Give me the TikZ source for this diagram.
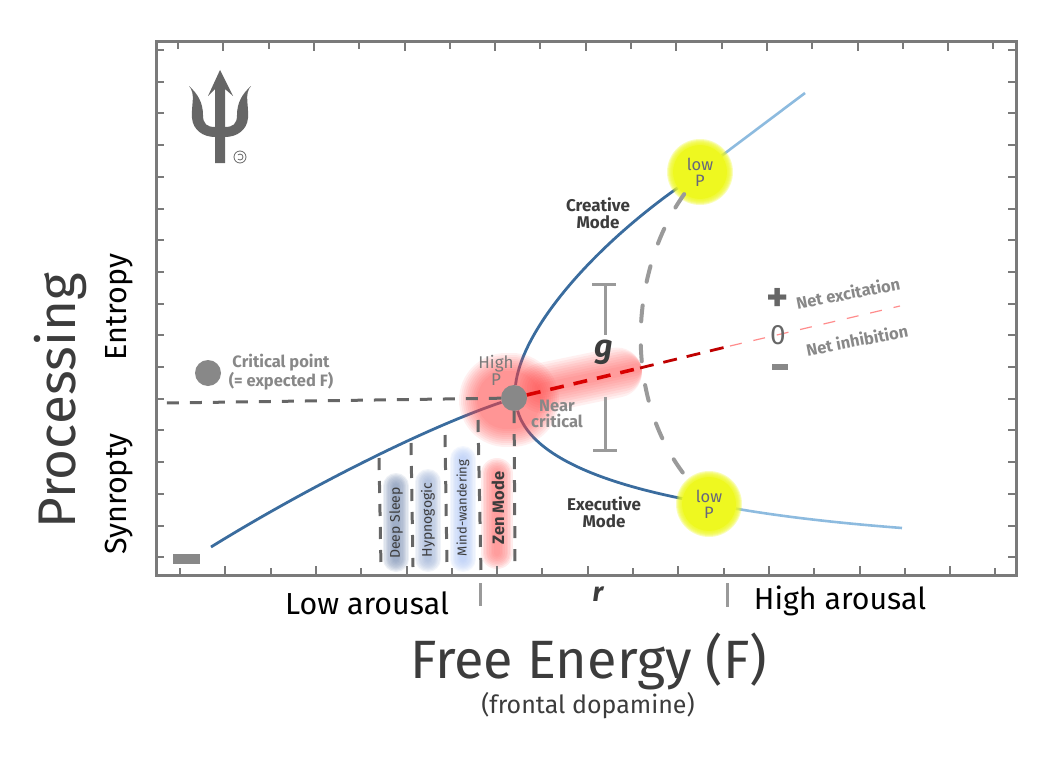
\documentclass[tikz,border=0pt]{standalone}
\usepackage{fontspec}
\setmainfont{Fira Sans}
\usetikzlibrary{backgrounds}

\definecolor{axisgray}{HTML}{7A7A7A}
\definecolor{markgray}{HTML}{888888}
\definecolor{dashgray}{HTML}{666666}
\definecolor{arcgray}{HTML}{9A9A9A}
\definecolor{textdark}{HTML}{3C3C3C}
\definecolor{flowblue}{HTML}{3A6C9E}
\definecolor{paleblue}{HTML}{8DBBDF}
\definecolor{lowyellow}{HTML}{EEF820}
\definecolor{lowtext}{HTML}{66667E}
\definecolor{redglow}{HTML}{FF4040}
\definecolor{deepband}{HTML}{7F93B5}
\definecolor{hypnoband}{HTML}{9FB2D6}
\definecolor{mindband}{HTML}{B2C8F5}
\definecolor{zenband}{HTML}{FF7B7B}

\newcommand{\fsz}[1]{\fontsize{#1}{#1}\selectfont}

\tikzset{
  axisline/.style={axisgray, line width=3pt},
  tickmark/.style={axisgray, line width=2pt},
  flowline/.style={flowblue, line width=2.8pt},
  paleline/.style={paleblue, line width=2.6pt},
  darkdash/.style={dashgray, line width=3pt, dash pattern=on 12pt off 11pt},
  arcdash/.style={arcgray, line width=4pt, line cap=round, dash pattern=on 16pt off 24pt},
  gbar/.style={arcgray, line width=3pt},
  critdot/.style={circle, fill=markgray, inner sep=0pt, minimum size=26pt},
  lowdot/.style={circle, fill=lowyellow, inner sep=0pt, minimum size=54pt, align=center, text=lowtext, font=\fontsize{16.5}{16}\selectfont},
  modelabel/.style={rotate=90, text=textdark, font=\fsz{14}},
  boldlabel/.style={align=center, text=textdark, font=\fontsize{17}{17}\bfseries\selectfont},
  graylabel/.style={align=center, text=markgray, font=\fontsize{16.5}{14}\bfseries\selectfont},
  marksign/.style={fill=markgray, inner sep=0pt}
}

\begin{document}
\begin{tikzpicture}[x=1pt, y=-1pt]
  \useasboundingbox (0,0) rectangle (1060,776);

  % Frame and ticks
  \draw[axisline] (156,42) rectangle (1016,575);
  \foreach \k in {0,...,18} {
    \pgfmathsetmacro{\tl}{mod(\k,2)*2}
    \draw[tickmark] (178+45.3*\k,42) -- (178+45.3*\k,49+\tl);
    \draw[tickmark] (180+45.3*\k,575) -- (180+45.3*\k,568-\tl);
  }
  \foreach \k in {0,...,16} {
    \draw[tickmark] (156,50+31.7*\k) -- (164,50+31.7*\k);
    \draw[tickmark] (1016,50+31.7*\k) -- (1008,50+31.7*\k);
  }

  % Trident
  \fill[dashgray] (220,70) -- (233,96) -- (225,89) -- (225,163) -- (215,163) -- (215,89) -- (208,96) -- cycle;
  \foreach \s in {1,-1} {
    \begin{scope}[shift={(220,0)}, xscale=\s, shift={(-220,0)}]
      \fill[dashgray] (189,86) .. controls (196,94) and (191,105) .. (192,118)
        .. controls (193,130) and (203,137) .. (215,137) -- (215,127)
        .. controls (207,127) and (203,124) .. (203,115)
        .. controls (203,103) and (198,94) .. (189,86) -- cycle;
    \end{scope}
  }
  \draw[dashgray, line width=0.8pt] (240,157) circle (6pt);
  \draw[dashgray, line width=0.8pt] (237.9,154.9) arc (135:-135:3pt);

  % Main points
  \node (crit) at (514,398) [critdot] {};
  \node (lowA) at (700,172) [lowdot] {low\\P};
  \node (lowB) at (709,504) [lowdot] {low\\P};

  % Free ends
  \coordinate (startLow) at (211,547);
  \coordinate (endTop) at (805,93);
  \coordinate (endRight) at (902,528);
  \coordinate (axisLeft) at (166,403);
  \coordinate (redA) at (640,368);
  \coordinate (redB) at (730,346);
  \coordinate (redC) at (900,306);
  \coordinate (tickA) at (480,583);
  \coordinate (tickAend) at (480,606);
  \coordinate (tickB) at (727,583);
  \coordinate (tickBend) at (727,607);

  \begin{scope}[on background layer]
    % Bands
    \foreach \x/\ya/\yb/\col/\bw in {396/486/559/deepband/26, 428/482/559/hypnoband/26, 463/459/559/mindband/26, 497/474/553/zenband/32} {
      \foreach \f in {1,0.9,0.8,0.7,0.6,0.5,0.4,0.3,0.2} {
        \draw[\col, line width=\f*\bw, line cap=round, opacity=0.14] (\x,\ya) -- (\x,\yb);
      }
    }

    % Curves
    \draw[flowline] (startLow) .. controls (300,492) and (420,430) .. (crit);
    \draw[flowline] (crit) .. controls (522,330) and (590,250) .. (lowA);
    \draw[flowline] (crit) .. controls (530,455) and (600,482) .. (lowB);
    \draw[paleline] (lowA) -- (endTop);
    \draw[paleline] (lowB) .. controls (790,518) and (850,524) .. (endRight);

    % Red glow
    \foreach \w in {94,90,86,82,78,74,70,66,62,58} {
      \draw[redglow, line width=\w, line cap=round, opacity=0.08] (506,400) -- (512,400);
    }
    \foreach \w in {50,45,40,35,30,25,20,15,10} {
      \draw[redglow, line width=\w, line cap=round, opacity=0.08] (542,388) -- ({642-\w/2},{367+\w*0.11});
    }

    % Yellow glow
    \foreach \r in {33,32,31,30,29,28} {
      \fill[lowyellow, opacity=0.3] (lowA) circle (\r pt);
      \fill[lowyellow, opacity=0.3] (lowB) circle (\r pt);
    }
  \end{scope}

  % Dashed lines
  \draw[darkdash] (crit) -- (axisLeft);
  \foreach \i/\xa/\ya/\xb/\yb in {1/379/458/381/567, 2/411/443/413/567, 3/445/435/447/567, 4/478/420/481/573} {
    \coordinate (modeTop\i) at (\xa,\ya);
    \coordinate (modeBot\i) at (\xb,\yb);
    \draw[darkdash] (modeTop\i) -- (modeBot\i);
  }
  \coordinate (modeBot5) at (515,570);
  \draw[darkdash] (crit) -- (modeBot5);
  \draw[arcdash] (lowA) .. controls (630,270) and (620,400) .. (lowB);

  % Excitation axis
  \draw[red!85!black, line width=3.6pt, dash pattern=on 14pt off 10pt] (crit) -- (redA);
  \draw[red!75!black, line width=2.8pt, dash pattern=on 14pt off 10pt] (redA) -- (redB);
  \draw[red!45, line width=1.2pt, dash pattern=on 12pt off 12pt] (redB) -- (redC);

  % g bar
  \node (gap) at (604,352) [text=textdark, font=\fsz{32}\bfseries\itshape] {g};
  \coordinate (gCapTopL) at (592,284);
  \coordinate (gCapTopR) at (616,284);
  \coordinate (gTop) at (605,284);
  \coordinate (gUp) at (605,335);
  \coordinate (gLow) at (605,397);
  \coordinate (gBot) at (605,450);
  \coordinate (gCapBotL) at (593,450);
  \coordinate (gCapBotR) at (617,450);
  \draw[gbar] (gCapTopL) -- (gCapTopR);
  \draw[gbar] (gTop) -- (gUp);
  \draw[gbar] (gLow) -- (gBot);
  \draw[gbar] (gCapBotL) -- (gCapBotR);
  \draw[gbar] (tickA) -- (tickAend);
  \draw[gbar] (tickB) -- (tickBend);

  % Mode labels
  \node (deep) at (396,523) [modelabel] {Deep Sleep};
  \node (hypno) at (428,520) [modelabel] {Hypnogogic};
  \node (mind) at (463,508) [modelabel, font=\fsz{13}] {Mind-wandering};
  \node (zen) at (498,508) [modelabel, font=\fsz{16.5}\bfseries] {Zen Mode};
  \node (creative) at (598,213) [boldlabel] {Creative\\Mode};
  \node (executive) at (604,512) [boldlabel] {Executive\\Mode};
  \node (high) at (496,370) [align=center, text=axisgray, font=\fontsize{17}{17}\selectfont] {High\\P};
  \node (near) at (557,414) [graylabel, font=\fontsize{16.5}{16}\bfseries\selectfont] {Near\\critical};

  % Critical point legend
  \node (critKey) at (208,373) [critdot] {};
  \node (critText) at (281,372) [graylabel] {Critical point\\(= expected F)};

  % Signs
  \node (plus) at (778,300) [text=dashgray, font=\fsz{42}\bfseries] {+};
  \node (zero) at (778,335) [text=dashgray, font=\fsz{28}] {0};
  \node (minus) at (780,367) [marksign, minimum width=16pt, minimum height=6pt] {};
  \node (lowKey) at (186.5,559) [marksign, minimum width=27pt, minimum height=10pt] {};
  \node (excit) at (848,293) [graylabel, rotate=11] {Net excitation};
  \node (inhib) at (857,340) [graylabel, rotate=11] {Net inhibition};

  % Axis labels
  \node (proc) at (60,401) [rotate=90, text=textdark, font=\fsz{53}] {Processing};
  \node (entropy) at (119,307) [rotate=90, text=black, font=\fsz{30.5}] {Entropy};
  \node (synropty) at (119,494) [rotate=90, text=black, font=\fsz{30.5}] {Synropty};
  \node (lowArousal) at (367,603) [text=black, font=\fsz{30.4}] {Low arousal};
  \node (highArousal) at (840,601) [text=black, font=\fsz{30.3}] {High arousal};
  \node (rate) at (598,594) [text=textdark, font=\fsz{27}\bfseries\itshape] {r};
  \node (energy) at (589,661) [text=textdark, font=\fsz{54}] {Free Energy (F)};
  \node (dopamine) at (588,706) [text=textdark, font=\fsz{25}] {(frontal dopamine)};
\end{tikzpicture}
\end{document}
